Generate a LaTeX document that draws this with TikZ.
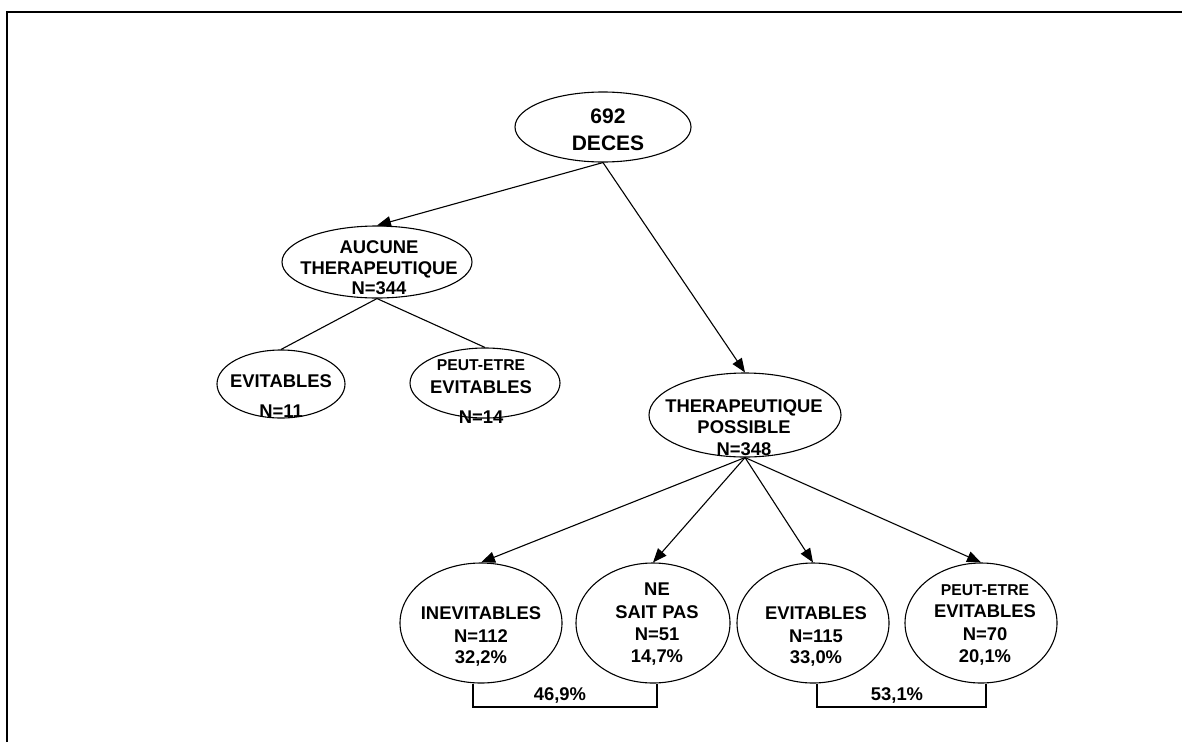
\documentclass[tikz,border=0pt]{standalone}
\usepackage{fontspec}
\setmainfont{Liberation Sans}
\usetikzlibrary{arrows.meta,calc,shapes.geometric}
\begin{document}
\begin{tikzpicture}[x=1pt,y=-1pt,
  oval/.style={draw,ellipse,line width=1.1pt,inner sep=0pt},
  tA/.style={anchor=base,inner sep=0pt,font={\fontsize{21}{25}\selectfont\bfseries}},
  tB/.style={anchor=base,inner sep=0pt,font={\fontsize{18.4}{22}\selectfont\bfseries}},
  tC/.style={anchor=base,inner sep=0pt,font={\fontsize{15.7}{19}\selectfont\bfseries}},
  conn/.style={line width=1.1pt},
  arr/.style={conn,-{Triangle[length=14pt,width=11pt]}}
]
\useasboundingbox (0,0) rectangle (1182,742);
\draw[line width=2.5pt] (7,742) -- (7,12) -- (1182,12);

% root
\node[oval,minimum width=176pt,minimum height=70pt] (deces) at (603,127) {};
\node[tA] (d1) at (608,123) {692};
\node[tA] (d2) at (608,150) {DECES};

% aucune therapeutique
\node[oval,minimum width=190pt,minimum height=72pt] (auc) at (377,262) {};
\node[tB] (a1) at (379,253) {AUCUNE};
\node[tB] (a2) at (379,274) {THERAPEUTIQUE};
\node[tB] (a3) at (379,294) {N=344};

\node[oval,minimum width=128pt,minimum height=68pt] (ev1) at (281,384) {};
\node[tB] (e1a) at (281,387) {EVITABLES};
\node[tB] (e1b) at (281,417) {N=11};

\node[oval,minimum width=150pt,minimum height=70pt] (pev1) at (485,383) {};
\node[tC] (p1a) at (481,370) {PEUT-ETRE};
\node[tB] (p1b) at (481,393) {EVITABLES};
\node[tB] (p1c) at (481,423) {N=14};

% therapeutique possible
\node[oval,minimum width=192pt,minimum height=84pt] (thp) at (745,415) {};
\node[tB] (t1) at (744,412) {THERAPEUTIQUE};
\node[tB] (t2) at (744,433) {POSSIBLE};
\node[tB] (t3) at (744,455) {N=348};

% bottom row
\node[oval,minimum width=162pt,minimum height=120pt] (inev) at (481,623) {};
\node[tB] (i1) at (481,619) {INEVITABLES};
\node[tB] (i2) at (481,642) {N=112};
\node[tB] (i3) at (481,663) {32,2\%};

\node[oval,minimum width=154pt,minimum height=120pt] (nsp) at (653,623) {};
\node[tB] (n1) at (657,595) {NE};
\node[tB] (n2) at (657,618) {SAIT PAS};
\node[tB] (n3) at (657,640) {N=51};
\node[tB] (n4) at (657,662) {14,7\%};

\node[oval,minimum width=152pt,minimum height=120pt] (ev2) at (813,623) {};
\node[tB] (v1) at (816,619) {EVITABLES};
\node[tB] (v2) at (816,642) {N=115};
\node[tB] (v3) at (816,663) {33,0\%};

\node[oval,minimum width=152pt,minimum height=120pt] (pev2) at (981,623) {};
\node[tC] (q1) at (985,595) {PEUT-ETRE};
\node[tB] (q2) at (985,617) {EVITABLES};
\node[tB] (q3) at (985,640) {N=70};
\node[tB] (q4) at (985,662) {20,1\%};

% connectors
\draw[arr] (deces.south) -- (auc.north);
\draw[arr] (deces.south) -- (thp.north);
\draw[conn] (auc.south) -- (ev1.north);
\draw[conn] (auc.south) -- (pev1.north);
\draw[arr] (thp.south) -- (inev.north);
\draw[arr] (thp.south) -- (nsp.north);
\draw[arr] (thp.south) -- (ev2.north);
\draw[arr] (thp.south) -- (pev2.north);

% brackets
\coordinate (bl1) at (473,707);
\coordinate (bl2) at (657,707);
\coordinate (br1) at (817,707);
\coordinate (br2) at (986,707);
\draw[conn] (inev.south -| bl1) -- (bl1) -- (bl2) -- (nsp.south -| bl2);
\draw[conn] (ev2.south -| br1) -- (br1) -- (br2) -- (pev2.south -| br2);
\node[tB] (g1) at (560,700) {46,9\%};
\node[tB] (g2) at (897,700) {53,1\%};
\end{tikzpicture}
\end{document}
